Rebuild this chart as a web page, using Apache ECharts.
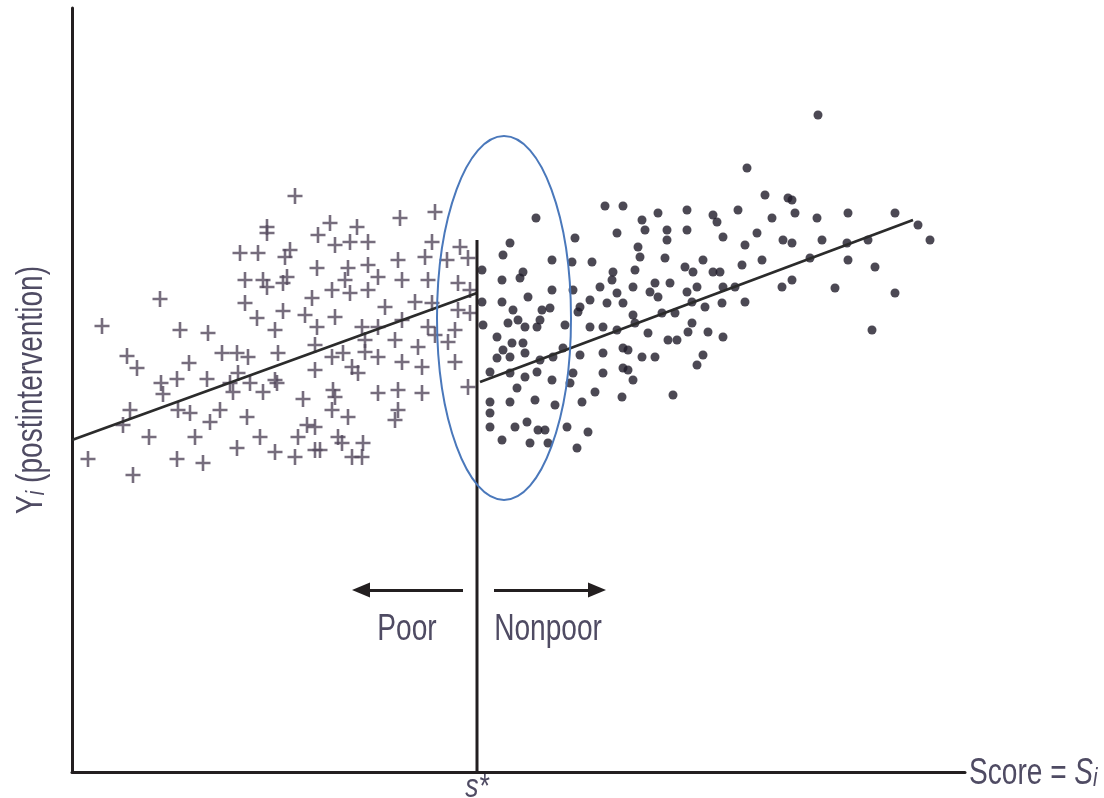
<!DOCTYPE html>
<html>
<head>
<meta charset="utf-8">
<script src="https://cdn.jsdelivr.net/npm/echarts@6/dist/echarts.min.js"></script>
<style>
html, body { margin: 0; padding: 0; background: #fff; }
#main { width: 1104px; height: 798px; }
</style>
</head>
<body>
<div id="main"></div>
<script>
// score (x) and postintervention outcome (y)
const poorPoints = [
  [88,473],[30,446],[108,442],[136,439],[55,416],[65,404],[117,409],[89,389],[91,378],[105,393],[135,393],
  [58,362],[106,362],[118,359],[138,350],[51,347],[77,335],[123,335],[16,313],[105,313],[131,309],[61,297],
  [223,576],[195,545],[195,539],[258,549],[285,545],[168,519],[186,519],[213,515],[218,522],[246,537],
  [263,527],[278,530],[276,504],[245,504],[173,492],[191,492],[195,485],[211,489],[215,495],[173,469],
  [185,454],[211,461],[233,457],[240,474],[245,445],[260,482],[263,455],[273,492],[278,479],[203,442],
  [206,419],[203,392],[243,427],[243,402],[260,415],[271,419],[280,405],[150,419],[165,419],[176,415],
  [166,399],[178,389],[191,380],[158,389],[161,380],[148,362],[175,355],[231,373],[263,375],[260,362],
  [276,355],[235,347],[243,345],[188,335],[226,335],[243,322],[266,335],[270,329],[203,320],[223,315],
  [165,324],[280,315],[290,315],[291,329],[248,322],[205,389],[261,382],
  [363,560],[328,554],[360,530],[296,530],[388,525],[353,515],[326,512],[296,507],[375,512],[306,495],
  [330,492],[356,492],[296,482],[386,489],[343,470],[360,469],[313,465],[386,462],[330,452],[356,445],
  [383,442],[290,445],[306,445],[293,432],[323,432],[363,437],[376,430],[346,425],[293,420],[306,415],
  [330,410],[350,405],[383,410],[286,399],[306,379],[326,382],[350,379],[396,385],[323,352],[326,362],
  [396,514],[398,482],[398,459]
];
const nonpoorPoints = [
  [464,554],[533,566],[551,566],[503,534],[545,539],[438,529],[431,517],[480,512],[500,510],[520,510],
  [410,502],[430,492],[448,494],[451,500],[456,475],[480,482],[501,482],[540,492],[528,485],[545,479],
  [410,470],[430,470],[441,462],[470,462],[478,464],[508,465],[518,472],[535,469],[551,469],[436,449],
  [446,452],[468,452],[453,445],[465,445],[411,447],[493,447],[506,460],[518,445],[531,445],[545,442],
  [425,435],[440,429],[451,429],[431,422],[425,414],[438,415],[453,419],[468,412],[481,415],[491,424],
  [508,417],[531,419],[551,424],[418,400],[438,399],[453,395],[465,400],[480,392],[501,399],[531,399],
  [551,404],[445,384],[498,389],[523,380],[550,375],[418,370],[438,370],[463,372],[483,367],[510,370],
  [418,359],[418,345],[443,345],[455,350],[466,342],[473,342],[495,345],[516,340],[430,332],[458,329],
  [476,329],[505,324],[541,500],
  [675,604],[693,577],[716,574],[666,562],[700,554],[586,559],[615,562],[641,557],[645,550],[570,552],
  [573,542],[595,542],[615,542],[595,532],[651,535],[673,527],[685,539],[711,532],[566,525],[568,515],
  [593,514],[613,505],[621,500],[631,512],[641,500],[648,500],[670,507],[690,512],[563,502],[583,489],
  [598,489],[561,485],[578,480],[615,480],[625,485],[651,485],[663,485],[586,475],[620,470],[633,465],
  [650,469],[673,470],[710,485],[590,459],[603,459],[561,457],[563,449],[620,449],[576,439],[616,440],
  [636,440],[651,435],[596,432],[605,432],[556,422],[570,415],[583,415],[631,417],[625,407],[556,402],
  [561,392],[601,377],
  [746,657],[720,572],[723,559],[745,554],[776,559],[823,559],[846,547],[858,532],[750,532],[775,529],
  [796,532],[720,529],[738,514],[776,512],[803,505],[720,492],[763,484],[823,479],[800,442]
];

// fitted lines on each side of the cutoff
const fitLeft = [[0,332],[405,479]];
const fitRight = [[408,390],[841,552]];

const cutoff = 405;
const cutoffTop = 532;
const arrowY = 182;
const arrowPoor = [391, 289];
const arrowNonpoor = [422, 525];
const labelY = 142;
const labelPoorX = 335;
const labelNonpoorX = 476;
// circled band around the cutoff: centre and half-widths
const ringCenter = [432, 454];
const ringRadius = [67, 182];

const xMax = 893;
const yMax = 764;

const sans = '"Liberation Sans", Arial, sans-serif';
const textColor = '#4f4b63';
const inkColor = '#231f20';
const squeeze = 0.78; // the original type is a narrow face

const chart = echarts.init(document.getElementById("main"));

const options = {
  animation: false,
  backgroundColor: "#fff",
  grid: { left: 72, right: 139, top: 8, bottom: 26, containLabel: false, outerBoundsMode: "none" },
  xAxis: {
    type: "value",
    min: 0,
    max: xMax,
    splitLine: { show: false },
    axisTick: { show: false },
    axisLabel: { show: false },
    axisLine: { show: true, lineStyle: { color: inkColor, width: 3 } },
  },
  yAxis: {
    type: "value",
    min: 0,
    max: yMax,
    splitLine: { show: false },
    axisTick: { show: false },
    axisLabel: { show: false },
    axisLine: { show: true, lineStyle: { color: inkColor, width: 3 } },
  },
  series: [
    {
      name: "poor",
      type: "scatter",
      data: poorPoints,
      symbol: "path://M-1.3,-8H1.3V-1.3H7.5V1.3H1.3V8H-1.3V1.3H-7.5V-1.3H-1.3Z",
      symbolSize: [15, 16],
      itemStyle: { color: "#54485c" },
      z: 3,
    },
    {
      name: "nonpoor",
      type: "scatter",
      data: nonpoorPoints,
      symbol: "circle",
      symbolSize: 9,
      itemStyle: { color: "#1f1c29" },
      z: 3,
    },
    {
      name: "fit poor",
      type: "line",
      data: fitLeft,
      showSymbol: false,
      lineStyle: { color: "#2b2b2b", width: 2.8 },
      z: 4,
    },
    {
      name: "fit nonpoor",
      type: "line",
      data: fitRight,
      showSymbol: false,
      lineStyle: { color: "#2b2b2b", width: 2.8 },
      z: 4,
    },
    {
      name: "cutoff",
      type: "line",
      data: [[cutoff, 0], [cutoff, cutoffTop]],
      showSymbol: false,
      lineStyle: { color: inkColor, width: 3 },
      z: 5,
      markLine: {
        silent: true,
        symbol: ["none", "triangle"],
        symbolSize: [15, 18],
        label: { show: false },
        lineStyle: { color: inkColor, width: 3, type: "solid" },
        data: [
          [{ coord: [arrowPoor[0], arrowY] }, { coord: [arrowPoor[1], arrowY] }],
          [{ coord: [arrowNonpoor[0], arrowY] }, { coord: [arrowNonpoor[1], arrowY] }],
        ],
      },
    },
  ],
};

chart.setOption(options);

// ring, side labels and axis titles placed through the grid's own scale
const px = (p) => chart.convertToPixel({ gridIndex: 0 }, p);
const c = px(ringCenter);
const edge = px([ringCenter[0] + ringRadius[0], ringCenter[1] + ringRadius[1]]);
const poorPos = px([labelPoorX, labelY]);
const nonpoorPos = px([labelNonpoorX, labelY]);
const origin = px([0, 0]);
const xEnd = px([xMax, 0]);
const yTop = px([0, yMax]);
const cut = px([cutoff, 0]);

const richText = {
  n: { fontFamily: sans, fontSize: 36, fill: textColor, lineHeight: 36, verticalAlign: "top" },
  i: { fontFamily: sans, fontSize: 36, fill: textColor, fontStyle: "italic", lineHeight: 36, verticalAlign: "top" },
  s: { fontFamily: sans, fontSize: 26, fill: textColor, fontStyle: "italic", lineHeight: 26, padding: [20, 0, 0, 0], verticalAlign: "bottom" },
};

function label(text, x, y, align) {
  return {
    type: "text",
    x: x,
    y: y,
    scaleX: squeeze,
    style: { text: text, font: "36px " + sans, fill: textColor, textAlign: align || "center", textVerticalAlign: "middle" },
  };
}

chart.setOption({
  graphic: [
    {
      type: "ellipse",
      shape: { cx: c[0], cy: c[1], rx: Math.abs(edge[0] - c[0]), ry: Math.abs(edge[1] - c[1]) },
      style: { fill: "none", stroke: "#4a78bb", lineWidth: 2 },
      z: 10,
    },
    label("Poor", poorPos[0], poorPos[1]),
    label("Nonpoor", nonpoorPos[0], nonpoorPos[1]),
    {
      type: "text",
      x: xEnd[0] + 4,
      y: origin[1] - 16,
      scaleX: squeeze,
      style: { text: "{n|Score = }{i|S}{s|i}", rich: richText, textAlign: "left", textVerticalAlign: "top" },
    },
    {
      type: "text",
      x: origin[0] - 40,
      y: (origin[1] + yTop[1]) / 2,
      rotation: Math.PI / 2,
      scaleX: squeeze,
      style: { text: "{n|Y}{s|i}{n| (postintervention)}", rich: richText, textAlign: "center", textVerticalAlign: "middle" },
    },
    {
      type: "text",
      x: cut[0],
      y: origin[1] - 1,
      scaleX: squeeze,
      style: { text: "s*", font: "italic 34px " + sans, fill: textColor, textAlign: "center", textVerticalAlign: "top" },
    },
  ],
});

window.addEventListener("resize", () => {
  chart.resize();
});
</script>
</body>
</html>
